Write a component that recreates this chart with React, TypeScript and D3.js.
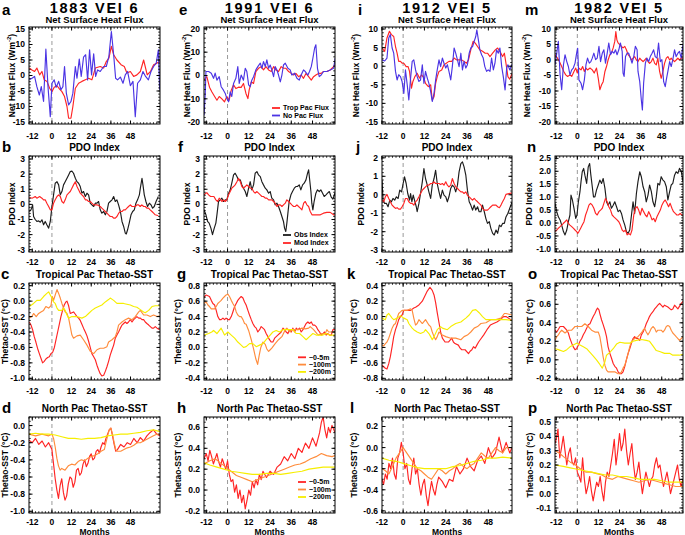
import React from "react";
import * as d3 from "d3";

type P = [number, number];

// ---------- Row a: Net surface heat flux (Trop Pac Flux = red, No Pac Flux = blue)
const aRed: P[] = [[-13.8,2.4],[-12.2,1.8],[-10.6,1.3],[-9.2,2.4],[-7.5,0.2],[-6.1,1.3],[-4.7,-1.4],[-3,-1.9],[-1.4,-4.1],[0,-5.2],[1.4,-3.8],[3.1,-3.3],[4.7,-4.4],[6.1,-5.2],[7.7,-6.8],[9.2,-10],[10.2,-13.8],[11.6,-13.8],[12.8,-10],[14.3,-4.1],[16.3,-2.5],[18.3,-1.9],[20.4,-1.4],[22.4,-0.9],[24.4,-1.4],[26.5,2.4],[29.5,2.9],[31.6,2.4],[33.2,4.5],[34.8,5.6],[36.3,9.4],[37.7,6.7],[39.7,5],[42.2,3.5],[44.2,2.9],[45.8,0.8],[47.9,1.3],[49.9,-0.3],[51.9,0.2],[54,1.3],[56,5],[58.2,0.2],[60.2,1.3],[62.1,3.5],[64.2,4],[65.8,4.5]];
const aBlue: P[] = [[-13.8,-1.4],[-12.2,-0.9],[-10.6,-0.3],[-9.2,-3.6],[-7.7,-6.3],[-6.5,-3.6],[-5.1,-8.4],[-3.7,8.5],[-2.4,-3.6],[-1,-13.3],[0,-2.5],[1.4,-1.4],[2.6,-3.8],[4.1,-1.9],[5.5,-4.6],[6.7,-3.6],[7.7,2.9],[8.8,-5.7],[10.2,-9.5],[11.6,-8.4],[12.8,-5.7],[14.3,2.9],[15.3,-0.9],[16.7,5.3],[17.9,-0.3],[19.3,5.9],[20.6,6.7],[21.8,-1.4],[23,8.3],[24.2,0.2],[25.5,7],[26.7,-0.3],[27.9,1.8],[29.5,1.3],[31.6,2.9],[33.2,2.9],[34.8,6.2],[36.3,14.2],[37.7,6.7],[38.9,-0.9],[40.1,-1.4],[41.8,-0.5],[43.4,-2.5],[44.8,0.2],[46.2,1.3],[47.9,-3.3],[49.5,-1.9],[50.9,-13.3],[52.3,-2.5],[54,-1.4],[55.6,1.3],[57.2,-0.3],[58.9,-1.4],[60.5,1.3],[62.1,2.9],[63.7,4],[65,8.3],[65.8,-4.6]];
const eRed: P[] = [[-13.3,-2],[-11.7,-0.5],[-10.2,-5],[-8.9,-7],[-7.3,-9],[-6,-10.6],[-4.7,-9],[-3.2,-10],[-1.7,-11.3],[-0.4,-9],[0.9,-10.6],[2.1,-6.3],[3.4,-4],[4.7,-5.6],[6.2,-5],[7.7,-5.1],[9,-3.4],[10.4,-7.7],[11.5,-9.9],[12.2,-6.3],[13.4,-2.7],[14.7,-3.4],[16,1.7],[17.5,3.1],[19,3.8],[20.3,2.4],[21.7,3.8],[23.2,2.4],[24.7,1.7],[26,3.8],[27.3,2.4],[28.8,1.7],[30.3,3.8],[31.6,3.1],[33,3.1],[34.5,1.7],[36,0.9],[37.3,0.2],[38.6,0.9],[40.1,-0.5],[41.6,0.2],[42.9,-1.2],[44.3,0.9],[45.8,-0.5],[47.3,-2],[48.6,-0.5],[49.9,0.2],[51.4,0.9],[52.9,0.9],[54.2,1.7],[56.1,1.7],[58,2.4],[59.9,3.8],[60.8,4.5]];
const eBlue: P[] = [[-13.3,-17],[-12.6,-8],[-12.2,1.7],[-10.7,1.7],[-9.2,1],[-7.9,-1.2],[-7,1],[-6,-2],[-4.7,-0.5],[-3.6,-4.8],[-2.3,-6.3],[-1.3,-7.7],[-0.4,-9.9],[0.6,-11.3],[1.5,-7],[2.4,-9],[3.4,-3.4],[4.7,-1.2],[5.8,3.8],[6.6,-3.4],[7.7,0.2],[9,-2],[10,3.1],[10.9,1.7],[11.9,-4],[12.8,-4.8],[13.7,-2],[14.7,-0.5],[16,2.4],[17.1,3.8],[18.5,5.3],[19.4,3.1],[20.3,6],[21.3,3.8],[22.2,6.7],[23.2,3.1],[24.1,4.5],[25,2.4],[26,-0.5],[26.9,3.8],[27.9,2.4],[28.8,0.2],[29.8,-2.7],[30.7,0.2],[31.6,4.5],[32.6,5.3],[34.1,3.1],[35.4,2.4],[36.3,0.2],[37.9,1],[39.2,-1.2],[40.5,-2],[41.6,0.2],[42.9,2.4],[43.9,1.7],[45.4,0.2],[46.3,1.7],[47.3,3.8],[48.2,7.4],[49.2,11.8],[49.9,13.2],[50.8,3.1],[51.8,-0.5],[52.9,0.2],[54.2,1.7],[56.1,1.7],[58,2.4],[59.9,3.1],[60.8,7.4]];
const iRed: P[] = [[-11.9,4.9],[-10.4,4],[-9.1,7.6],[-7.7,9.4],[-6.6,8.5],[-5.3,8],[-4.3,5.3],[-3.4,3.5],[-2.5,1.3],[-1.5,1.3],[-0.6,0.8],[0.4,0.8],[1.7,-0.1],[2.8,-0.1],[3.6,-1.4],[4.7,-5.9],[5.5,-4.1],[6.6,-2.8],[7.9,-1.9],[9.2,-3.2],[10.4,-2.3],[11.7,-3.2],[12.6,-4.6],[14.2,-5.5],[15.5,-5],[16.4,-9.1],[17.4,-8.2],[18.3,-4.6],[19.2,-2.8],[20.2,-1.4],[21.7,-1],[23,0.4],[24.3,0.8],[25.8,1.3],[27.4,1.3],[28.7,2.2],[30,1.7],[31.5,1.7],[33,1.7],[34.3,1.3],[35.7,0.8],[36.8,1.7],[38.1,4.4],[39.4,6.7],[40.6,6.2],[41.9,5.3],[43.2,4.4],[44.7,4],[46.2,3.5],[47.5,3.5],[48.9,2.6],[50.4,3.5],[51.9,4.4],[53.2,4.9],[54.5,4],[56,2.6],[57,3.5],[57.9,0.8],[59,-2.8],[60,-3.5],[61.3,-2]];
const iBlue: P[] = [[-11.9,1.7],[-10.4,1.4],[-9.1,2.2],[-8.1,7.6],[-7.2,8.5],[-6.2,4.9],[-5.3,3.5],[-4.3,-1.4],[-3.4,-3.7],[-2.5,-2.3],[-1.5,-2.8],[-0.6,-4.1],[0.4,-7.3],[1.3,-1],[2.3,-5],[3.2,-9.1],[4.2,-3.2],[5.1,1.3],[6,1.7],[7,-1],[7.9,-2.8],[8.9,-4.1],[9.8,-3.7],[10.8,0.4],[11.7,-4.6],[12.6,-1.4],[13.6,-3.2],[14.5,-4.6],[15.5,-6.8],[16.4,-9.5],[17.4,-7.3],[18.3,-3.7],[19.2,-1],[20.2,1.7],[21.1,-0.1],[22.1,2.2],[23,0.8],[24,-0.5],[24.9,0.4],[25.8,-1.4],[26.8,-3.7],[27.7,-0.1],[28.7,4.9],[29.6,3.5],[30.6,1.7],[31.5,-0.1],[32.5,3.5],[33.4,-1],[34.3,1.3],[35.3,-0.5],[36.2,0.4],[37.2,3.5],[38.1,4.9],[39.1,5.3],[40,6.7],[40.9,8],[41.5,9.8],[42.5,6.7],[43.2,4.4],[44.2,3.1],[45.1,2.2],[46,-0.1],[47,-1.4],[47.9,-1],[48.9,-1.4],[49.8,2.2],[50.8,-1],[51.7,0.8],[52.6,4.4],[53.6,3.5],[54.5,4.9],[55.5,-0.1],[56.4,-2.8],[57.4,-6.4],[58.3,-0.5],[59,0.4],[60,-1],[61.3,0.5]];
const mRed: P[] = [[-12.7,1.7],[-11.3,0.6],[-10.2,-0.5],[-8.9,-2.1],[-7.7,-3.7],[-6.6,-4.8],[-5.5,-5.3],[-4.2,-4.8],[-3.2,-5.3],[-1.9,-3.7],[-0.9,-2.6],[0,-4.2],[0.9,-2.6],[2.1,-3.2],[3,-2.1],[4,-3.7],[4.9,-2.6],[5.8,-3.2],[7.2,-2.6],[8.5,-3.2],[9.6,-4.2],[10.9,-2.6],[11.9,-5.9],[12.8,-9.6],[13.8,-8],[14.7,-7],[15.7,-3.7],[16.6,-2.1],[17.5,0],[18.5,1.7],[19.4,2.3],[20.4,3.9],[21.3,6],[21.9,9.2],[22.5,6.5],[23.2,5.5],[24.2,4.9],[25.1,4.4],[26,3.9],[27,4.4],[27.9,3.3],[28.9,1.7],[29.8,1.1],[30.8,0],[31.7,0.6],[32.6,1.1],[33.6,0],[34.5,-0.5],[35.5,0.6],[36.4,0],[37.4,-0.5],[38.3,0],[39.2,0.6],[40.2,-0.5],[41.1,-1.1],[42.1,-0.5],[43,0.6],[44,-1.1],[44.9,-1.6],[45.8,0.6],[46.8,-3.7],[47.7,-5.9],[48.7,-3.7],[49.6,-1.1],[50.6,0.6],[51.5,1.1],[52.5,0],[53.4,0.6],[54.3,0],[55.3,-0.5],[56.2,0],[57.2,0.6],[58.1,0],[59.1,0.6],[60.1,0.6]];
const mBlue: P[] = [[-12.7,-1.6],[-11.7,2.2],[-10.8,6],[-9.8,-4.8],[-8.9,-9.6],[-7.9,-1.6],[-7,1.7],[-6,-0.5],[-5.1,-2.1],[-4.2,-4.8],[-3.2,-3.2],[-2.3,-2.6],[-1.3,-1],[-0.4,2.2],[0.2,3.8],[0.9,-6.4],[2.1,-7.5],[3,-9.6],[4,-6.4],[4.9,-1.6],[5.8,0.6],[6.8,-1],[7.7,-0.5],[8.5,0.6],[9.4,2.2],[10.4,0.1],[11.3,0.6],[12.3,4.4],[13.2,-0.5],[14.2,2.2],[15.1,3.3],[16,-1],[17,2.2],[17.9,5.5],[18.9,1.7],[19.8,2.8],[20.8,2.2],[21.7,3.3],[22.6,1.7],[23.6,3.3],[24.5,5.5],[25.5,2.8],[26,-4.2],[26.6,-5.3],[27.4,1.1],[28.3,2.2],[29.2,2.2],[30.2,0.6],[31.1,-1],[32.1,1.1],[33,4.4],[34,3.3],[34.5,-3.7],[35.5,-7],[36.4,-12.9],[37,-16.1],[37.7,-7.5],[38.7,-1],[39.6,0.6],[40.6,-0.5],[41.5,1.1],[42.5,2.2],[43.4,3.3],[44.3,1.1],[45.3,0.6],[46.2,5.5],[47.2,-0.5],[48.1,0.1],[49.1,-7],[50,-8.6],[50.6,-6.4],[51.5,-3.7],[52.5,-0.5],[53.4,-2.1],[54.3,0.1],[55.3,3.3],[56.2,1.1],[57.2,2.2],[58.1,2.8],[59.1,0.6],[60.1,4.9]];

// ---------- Row b: PDO index (Obs = black, Mod = red)
const bObs: P[] = [[-13.8,-0.47],[-12.8,-0.36],[-11.8,-0.03],[-11.2,-0.8],[-10.2,-1.0],[-9.2,-1.13],[-8.1,-1.09],[-7.1,-1.18],[-6.1,-1.02],[-5.1,-1.35],[-4.1,-1.13],[-3.1,-1.35],[-2,-1.57],[-1,-1.13],[0,-0.14],[1,0.63],[2,1.4],[3.1,1.5],[4.1,1.29],[5.1,0.63],[6.1,0.85],[7.1,1.29],[8.1,1.5],[9.2,1.73],[10.2,1.95],[11.2,2.17],[12.2,2.2],[13.2,2.06],[14.3,1.73],[15.3,1.5],[16.3,1.4],[17.3,1.18],[18.3,0.74],[19.3,0.85],[20.4,0.52],[21.4,0.74],[22.4,0.63],[23.4,0.08],[24.4,-0.03],[25.5,-0.14],[26.5,0.08],[27.5,0.08],[28.5,0.19],[29.5,-0.36],[30.5,-0.58],[31.6,-0.47],[32.6,-0.69],[33.6,-0.47],[34.6,0.08],[35.6,0.19],[36.7,0.3],[37.7,0.52],[38.7,0.19],[39.7,0.3],[40.7,-0.03],[41.8,-0.47],[42.8,-1.13],[43.8,-1.46],[44.8,-1.9],[45.4,-1.96],[46.2,-1.68],[47.2,-1.24],[48.3,-0.69],[49.3,-0.47],[50.3,-0.36],[51.3,0.08],[52.3,0.3],[53.4,0.63],[54,1.07],[55,1.73],[55.6,1.29],[56.4,0.63],[57.4,0.19],[58.4,-0.14],[59.5,0.08],[60.5,-0.03],[61.5,-0.25],[62.5,-0.14],[63.6,0.19],[65,0.52]];
const bMod: P[] = [[-13.8,0.47],[-12.2,0.41],[-11.2,0.45],[-10.2,0.52],[-9.2,0.41],[-7.5,0.52],[-6.1,0.41],[-5.1,0.3],[-4.1,0.3],[-3.1,0.08],[-2,-0.14],[-1,-0.36],[0,-0.36],[1,0.08],[2,0.3],[3.1,0.52],[4.1,0.63],[5.1,0.52],[6.1,0.19],[7.1,0.08],[8.1,0.3],[9.2,0.63],[10.2,0.74],[11.2,0.85],[12.2,1.07],[13.2,1.29],[14.3,1.5],[15.3,1.18],[16.3,0.96],[17.3,0.74],[18.3,0.63],[19.3,0.52],[20.4,0.3],[21.4,0.3],[22.4,0.19],[23.4,0.19],[24.4,0.08],[25.5,-0.03],[27.5,-0.03],[29.5,-0.14],[30.5,-0.25],[31.6,-0.36],[32.6,-0.47],[33.6,-0.58],[34.6,-0.69],[35.6,-0.8],[36.7,-0.8],[37.7,-0.91],[38.7,-0.91],[39.7,-0.8],[40.7,-0.6],[41.8,-0.47],[42.8,-0.47],[43.8,-0.36],[44.8,-0.36],[45.8,-0.25],[46.8,-0.14],[47.9,-0.03],[48.9,-0.14],[49.9,-0.14],[50.9,-0.14],[51.9,-0.03],[52.9,-0.03],[53.9,-0.14],[54.9,-0.03],[56,-0.14],[57,-0.14],[58,-0.25],[59,-0.25],[60,-0.36],[61.1,-0.47],[62.1,-0.58],[63.1,-0.69],[65,-0.75]];
const fObs: P[] = [[-13.3,-0.36],[-12.2,-0.69],[-11.3,-1.13],[-10.4,-1.24],[-9.4,-1.57],[-8.5,-2.0],[-7.5,-1.57],[-6.6,-1.24],[-6,-0.69],[-5.1,0.19],[-4.1,0.3],[-3.2,0.41],[-2.3,0.19],[-1.3,0.3],[-0.4,0.3],[0.6,0.74],[1.5,0.96],[2.4,1.4],[3.4,1.95],[4.3,2.06],[5.3,1.84],[6.2,1.62],[7.2,1.62],[8.1,1.29],[9,1.07],[10,0.85],[10.9,0.52],[11.9,1.07],[12.8,1.5],[13.7,0.96],[14.7,1.29],[15.6,2.06],[16.6,2.17],[17.5,1.95],[18.5,1.84],[19.4,1.5],[20.3,1.29],[21.3,1.07],[22.2,0.96],[23.2,0.74],[24.1,0.85],[25,0.41],[26,0.3],[26.9,-0.03],[27.9,0.08],[28.8,-0.14],[29.8,-0.47],[30.7,-0.8],[31.6,-1.13],[32.2,-1.57],[32.9,-1.79],[33.5,-1.24],[34.1,-0.58],[34.8,0.19],[35.8,0.63],[36.7,0.85],[37.7,1.07],[38.6,1.18],[39.5,1.18],[40.5,1.29],[41.4,0.96],[42.4,1.29],[43.3,1.4],[44.3,1.62],[45.2,2.06],[45.8,2.28],[46.3,1.73],[47.1,0.85],[47.6,0.08],[48.2,-0.36],[48.9,0.19],[49.9,0.74],[50.8,0.96],[51.8,0.85],[52.7,0.96],[53.7,0.74],[54.6,0.52],[55.6,0.63],[56.5,0.74],[57.5,0.85],[58.5,0.5],[59.5,0.35],[60.7,0.75]];
const fMod: P[] = [[-13.3,0.63],[-11.7,0.78],[-10.7,0.63],[-9.6,0.52],[-8.7,0.52],[-7.7,0.52],[-6.6,0.3],[-5.6,0.19],[-4.7,0.41],[-3.2,0.19],[-2.3,0.3],[-1.3,0.19],[-0.4,0.3],[0.6,0.63],[1.5,0.85],[2.4,1.07],[3.4,1.18],[4.3,1.29],[5.3,1.5],[6.2,1.73],[7.2,1.5],[8.1,1.18],[9,1.07],[10,1.18],[10.9,1.29],[11.9,1.18],[12.8,1.07],[13.7,1.07],[14.7,0.85],[15.6,0.74],[16.6,0.85],[17.5,0.74],[18.5,0.63],[19.4,0.52],[20.3,0.52],[21.3,0.41],[22.2,0.41],[23.2,0.3],[24.1,0.3],[25,0.3],[26,0.19],[26.9,0.08],[27.9,-0.14],[28.8,-0.03],[29.8,-0.03],[30.7,-0.14],[31.6,-0.03],[32.6,0.08],[33.5,0.3],[34.5,0.19],[35.4,0.08],[36.3,-0.03],[37.3,-0.14],[38.2,-0.14],[39.2,-0.03],[40.1,-0.14],[41.1,-0.25],[42,-0.36],[43,0.08],[43.9,0.19],[44.8,-0.03],[45.8,-0.14],[46.7,-0.47],[47.7,-0.69],[48.6,-0.69],[50.5,-0.69],[52.4,-0.69],[54.2,-0.58],[56.1,-0.53],[58,-0.53],[59.9,-0.69],[60.7,-0.69]];
const jObs: P[] = [[-11.9,0.79],[-11.3,-0.29],[-10.4,-0.47],[-9.4,-0.47],[-8.5,-0.65],[-7.5,-0.29],[-6.6,-0.38],[-5.7,-0.2],[-4.7,-0.29],[-3.8,-0.11],[-2.8,-0.2],[-1.9,0.25],[-0.9,0.16],[0,0.61],[0.8,0.97],[1.7,0.61],[2.6,0.07],[3.6,-0.29],[4.2,0.07],[4.9,-0.38],[5.7,-0.02],[6.4,-0.29],[7.4,-0.65],[7.9,-0.92],[8.9,-0.47],[9.8,0.07],[10.8,0.7],[11.7,1.42],[12.6,0.88],[13.6,0.52],[14.5,0.16],[15.5,-0.2],[16.4,0.52],[17.4,0.88],[18.3,1.33],[19.2,0.61],[20.2,0.16],[21.1,-0.2],[22.1,0.25],[23,-0.02],[24,-0.11],[24.9,-0.38],[25.8,-0.11],[26.8,0.34],[27.7,0.52],[28.7,0.43],[29.6,0.16],[30.6,0.52],[31.5,1.24],[32.5,1.69],[33.4,1.78],[34.3,1.51],[35.3,1.06],[36.2,0.25],[37.2,-0.38],[38.1,-0.56],[39.1,-0.83],[40,-0.56],[40.9,-0.83],[41.9,-0.65],[42.8,-0.92],[43.8,-0.92],[44.7,-0.56],[45.7,-0.92],[46.6,-1.29],[47.5,-1.55],[48.5,-1.46],[49.4,-1.82],[50.4,-2.09],[51.3,-2.18],[52.3,-1.91],[53.2,-2.09],[54.2,-1.64],[55.1,-1.73],[56,-1.55],[57,-1.55],[57.9,-1.2],[59,-1.0],[61.3,-0.4]];
const jMod: P[] = [[-11.9,-0.29],[-10.9,-0.38],[-10,-0.11],[-9.1,0.02],[-8.1,-0.2],[-7.2,-0.38],[-6.2,-0.56],[-5.3,-0.65],[-4.3,-0.74],[-3.4,-0.7],[-2.5,-0.78],[-1.5,-0.78],[-0.6,-0.65],[0.4,-0.47],[1.3,-0.2],[2.3,-0.2],[3.2,-0.38],[4.2,-0.47],[5.1,-0.47],[6,-0.56],[7,-0.38],[7.9,-0.29],[8.9,-0.11],[9.8,0.07],[10.8,0.25],[11.7,0.34],[12.6,0.43],[13.6,0.52],[14.5,0.52],[15.5,0.61],[16.4,0.61],[17.4,0.7],[18.3,0.61],[19.2,0.61],[20.2,0.61],[21.1,0.56],[22.1,0.61],[23,0.52],[24,0.7],[24.9,0.52],[25.8,0.43],[26.8,0.52],[27.7,0.88],[28.7,0.61],[29.6,0.43],[30.6,0.34],[31.5,0.25],[32.5,0.16],[33.4,0.16],[34.3,0.07],[35.3,0.16],[36.2,-0.02],[37.2,-0.11],[38.1,-0.2],[39.1,-0.29],[40,-0.2],[40.9,-0.29],[41.9,-0.38],[42.8,-0.47],[43.8,-0.56],[44.7,-0.74],[45.7,-0.83],[46.6,-0.83],[47.5,-0.83],[48.5,-0.74],[49.4,-0.65],[50.4,-0.56],[51.3,-0.56],[52.3,-0.56],[53.2,-0.65],[54.2,-0.7],[55.1,-0.56],[56,-0.38],[57,-0.2],[57.9,0.02],[59,0.05],[61.3,0.1]];
const nObs: P[] = [[-12.7,0.76],[-11.7,0.44],[-10.8,0.24],[-9.8,0.12],[-8.9,-0.08],[-7.9,-0.33],[-7,-0.46],[-6,-0.27],[-5.1,0.05],[-4.2,0.31],[-3.6,1.08],[-2.8,0.89],[-1.9,0.57],[-0.9,0.18],[-0.2,0.31],[0.6,0.82],[1.5,1.21],[2.1,1.6],[2.8,1.98],[3.6,2.11],[4.3,1.85],[5.3,1.53],[6.2,2.17],[7,2.3],[7.7,1.85],[8.5,1.4],[9.2,1.01],[10,1.01],[10.9,1.27],[11.9,1.47],[12.8,1.66],[13.8,1.53],[14.7,1.72],[15.7,1.34],[16.6,0.82],[17.5,0.69],[18.5,0.82],[19.4,0.57],[20.4,0.69],[21.3,0.82],[22.3,0.63],[23.2,0.44],[24.2,0.5],[25.1,0.37],[26,0.12],[27,-0.08],[27.9,-0.33],[28.9,-0.4],[29.8,-0.27],[30.8,0.31],[31.7,0.82],[32.6,0.37],[33.6,1.14],[34.5,1.6],[35.5,1.98],[36.4,1.79],[37.4,1.4],[38.3,1.21],[39.2,0.82],[40.2,1.08],[41.1,1.47],[42.1,1.21],[43,0.82],[44,0.63],[44.9,1.01],[45.8,1.53],[46.8,1.47],[47.7,1.79],[48.7,1.66],[49.6,1.6],[50.6,1.4],[51.5,0.89],[52.5,1.21],[53.4,1.47],[54.3,1.53],[55.3,1.85],[56.2,1.98],[57.2,1.92],[58.1,2.11],[59.1,2.0],[60.1,1.6]];
const nMod: P[] = [[-12.7,-0.33],[-11.7,-0.27],[-10.8,-0.2],[-9.8,-0.14],[-8.9,-0.08],[-7.9,-0.01],[-7,0.05],[-6,0.12],[-5.1,-0.01],[-4.2,-0.08],[-3.2,-0.14],[-2.3,-0.2],[-1.3,-0.27],[-0.4,-0.33],[0.2,-0.4],[0.9,-0.33],[1.9,-0.2],[2.8,-0.08],[3.8,0.05],[4.7,0.31],[5.7,0.5],[6.6,0.69],[7.5,0.76],[8.5,0.69],[9.4,0.57],[10.4,0.37],[11.3,0.31],[12.3,0.44],[13.2,0.5],[14.2,0.57],[15.1,0.76],[16,0.95],[17,0.82],[17.9,0.63],[18.9,0.5],[19.8,0.31],[20.8,0.24],[21.7,0.18],[22.6,0.12],[23.6,0.05],[24.5,-0.08],[25.5,-0.27],[26.4,-0.33],[27.4,-0.27],[28.3,-0.46],[29.2,-0.4],[30.2,-0.46],[31.1,-0.27],[32.1,0.31],[33,0.57],[34,0.63],[34.9,0.5],[35.8,0.31],[36.8,0.57],[37.7,0.44],[38.7,0.31],[39.6,0.24],[40.6,0.44],[41.5,0.31],[42.5,0.12],[43.4,0.18],[44.3,0.05],[45.3,0.24],[46.2,0.37],[47.2,0.5],[48.1,0.69],[49.1,0.82],[50,0.89],[51,0.76],[51.9,0.63],[52.8,0.76],[53.8,0.57],[54.7,0.44],[55.7,0.37],[56.6,0.31],[57.5,0.31],[58.5,0.37],[59.4,0.31],[60.1,0.31]];

// ---------- Row c: Tropical Pac thetao-SST (~0-5m red, ~100m orange, ~200m yellow)
const cSurf: P[] = [[-13.8,-0.27],[-12.8,-0.31],[-11.8,-0.37],[-10.8,-0.46],[-9.8,-0.53],[-8.8,-0.61],[-7.7,-0.68],[-6.7,-0.74],[-5.7,-0.8],[-4.7,-0.78],[-3.7,-0.75],[-2.6,-0.73],[-1.6,-0.72],[-0.6,-0.68],[0.5,-0.66],[1.5,-0.6],[2.5,-0.5],[3.5,-0.4],[4.5,-0.3],[5.5,-0.2],[6.5,-0.12],[7.5,-0.05],[8.5,-0.01],[9.2,0.0],[10.2,-0.06],[11.2,-0.16],[12.2,-0.15],[13.2,-0.14],[14.3,-0.17],[15.3,-0.2],[16.3,-0.22],[17.3,-0.25],[18.3,-0.3],[19.3,-0.35],[20.4,-0.4],[21.4,-0.45],[22.4,-0.52],[23.4,-0.6],[24.4,-0.68],[25.5,-0.72],[26.5,-0.76],[27.5,-0.83],[28.5,-0.89],[29.5,-0.94],[30.5,-0.97],[31.6,-0.96],[32.6,-0.91],[33.6,-0.85],[34.6,-0.78],[35.6,-0.7],[36.7,-0.63],[37.7,-0.57],[38.7,-0.48],[39.7,-0.44],[40.7,-0.4],[41.8,-0.35],[42.8,-0.31],[43.8,-0.29],[44.8,-0.27],[45.8,-0.29],[46.8,-0.27],[47.9,-0.24],[48.9,-0.27],[49.9,-0.24],[50.9,-0.22],[51.9,-0.2],[53,-0.22],[54,-0.22],[55,-0.24],[56,-0.24],[57,-0.27],[58,-0.29],[59.1,-0.31],[60.1,-0.33],[61.1,-0.35],[62.1,-0.35],[63.1,-0.33],[64.2,-0.35],[65.8,-0.37]];
const c100: P[] = [[-13.8,-0.22],[-12.2,-0.2],[-11.2,-0.16],[-9.6,-0.2],[-8.1,-0.16],[-6.7,-0.14],[-5.1,-0.12],[-3.7,-0.07],[-2,-0.09],[-0.6,-0.06],[0.2,0.06],[1,0.01],[2,0.08],[3.1,0.15],[4.1,0.1],[5.1,0.04],[6.1,-0.03],[7.1,-0.09],[8.1,-0.14],[9.2,-0.16],[10.2,-0.22],[11.2,-0.33],[12.2,-0.44],[13.2,-0.48],[15.3,-0.45],[17.3,-0.44],[19.3,-0.5],[21.4,-0.57],[23.4,-0.65],[25.5,-0.68],[27.5,-0.63],[29.5,-0.61],[31.6,-0.61],[33.6,-0.59],[34.6,-0.53],[36.7,-0.5],[38.7,-0.46],[39.7,-0.4],[40.7,-0.31],[42.8,-0.27],[44.8,-0.24],[46.8,-0.22],[48.9,-0.24],[50.9,-0.2],[53,-0.14],[54,-0.12],[56,-0.18],[58,-0.18],[60.1,-0.2],[62.1,-0.18],[64.2,-0.2],[65.8,-0.19]];
const c200: P[] = [[-13.8,-0.07],[-11.2,-0.03],[-9.2,0.01],[-7.1,0.01],[-5.1,0.06],[-3.1,0.1],[-2,0.12],[-1,0.08],[0,0.04],[1,-0.01],[2,-0.03],[3.1,-0.09],[4.1,-0.12],[6.1,-0.12],[7.1,-0.09],[8.1,-0.12],[9.2,-0.18],[10.2,-0.22],[12.2,-0.2],[15.3,-0.2],[18.3,-0.22],[20.4,-0.2],[22.4,-0.16],[24.4,-0.12],[26.5,-0.09],[28.5,-0.07],[30.5,-0.05],[32.6,-0.01],[34.6,0.02],[35.6,0.04],[37.7,0.01],[39.7,-0.03],[41.8,-0.03],[43.8,-0.03],[45.8,-0.04],[47.9,-0.05],[49.9,-0.07],[51.9,-0.08],[54,-0.11],[56,-0.14],[57,-0.15],[59.1,-0.12],[61.1,-0.07],[63.1,-0.06],[65.8,-0.06]];
const gSurf: P[] = [[-13.3,0.65],[-12.1,0.68],[-10.2,0.66],[-9.2,0.61],[-8.3,0.57],[-7.3,0.55],[-6.4,0.48],[-5.5,0.4],[-4.5,0.36],[-3.6,0.36],[-2.6,0.38],[-1.7,0.36],[-0.8,0.38],[0.2,0.36],[1.1,0.36],[2.1,0.4],[3,0.46],[4,0.53],[4.9,0.57],[5.8,0.61],[6.8,0.64],[7.7,0.66],[8.7,0.64],[9.6,0.59],[10.5,0.55],[11.5,0.48],[12.4,0.42],[13.4,0.36],[14.3,0.31],[15.3,0.27],[16.2,0.25],[17.1,0.2],[18.1,0.23],[19,0.27],[20,0.25],[20.9,0.23],[21.8,0.18],[22.8,0.14],[23.7,0.1],[24.7,0.07],[25.6,0.07],[26.6,0.12],[27.5,0.14],[28.4,0.16],[29.4,0.18],[30.3,0.2],[31.3,0.25],[32.2,0.23],[33.1,0.2],[34.1,0.18],[35,0.23],[36,0.2],[36.9,0.25],[37.9,0.2],[38.8,0.25],[39.7,0.23],[40.7,0.25],[41.6,0.2],[42.6,0.23],[43.5,0.27],[44.4,0.31],[45.4,0.33],[46.3,0.31],[47.3,0.33],[48.2,0.29],[49.2,0.29],[50.1,0.27],[51,0.23],[52,0.2],[52.9,0.16],[53.9,0.18],[54.8,0.2],[55.7,0.16],[56.7,0.18],[57.6,0.16],[58.6,0.16],[59.5,0.23],[60.8,0.23]];
const g100: P[] = [[-13.3,0.57],[-12.1,0.59],[-11.1,0.55],[-10.2,0.53],[-9.2,0.5],[-7.3,0.5],[-6.4,0.53],[-5.5,0.57],[-4.5,0.59],[-3.6,0.61],[-2.6,0.64],[-1.7,0.66],[-0.8,0.68],[0.2,0.69],[1.1,0.66],[2.1,0.61],[3,0.57],[4,0.53],[4.9,0.46],[5.8,0.42],[6.8,0.4],[7.7,0.4],[8.7,0.36],[9.6,0.31],[10.5,0.3],[11.9,0.22],[13.4,0.1],[14.7,-0.02],[16,-0.15],[17,-0.22],[17.9,-0.1],[18.8,0.0],[20,0.07],[21.3,0.04],[22.2,-0.02],[23.2,-0.05],[24.1,-0.03],[25,-0.01],[26.9,0.05],[28.8,0.1],[30.7,0.14],[32.6,0.23],[33.5,0.25],[35.4,0.2],[36.3,0.23],[38.2,0.23],[40.1,0.23],[42,0.25],[43.9,0.24],[45.8,0.25],[46.7,0.27],[48.6,0.23],[50.5,0.18],[51.4,0.16],[53.3,0.18],[55.2,0.18],[56.1,0.23],[57.1,0.2],[58.9,0.2],[60.8,0.2]];
const g200: P[] = [[-13.3,0.16],[-10.7,0.18],[-8.9,0.2],[-7.9,0.22],[-6,0.18],[-3.6,0.25],[-1.7,0.16],[0.2,0.2],[2.1,0.16],[4,0.12],[5.8,0.07],[7.7,0.03],[9,0.0],[10.5,0.01],[12.4,0.05],[14.3,0.05],[16.2,0.01],[18.1,0.03],[20,0.05],[21.8,0.1],[23.7,0.15],[25.6,0.2],[27.5,0.22],[29.4,0.2],[31.3,0.23],[33.1,0.23],[35,0.23],[36.9,0.23],[38.8,0.18],[40.7,0.18],[42.6,0.14],[44.4,0.1],[46.3,0.14],[48.2,0.18],[50.1,0.16],[52,0.16],[53.9,0.16],[55.7,0.18],[57.6,0.16],[59.5,0.16],[60.8,0.16]];
const kSurf: P[] = [[-11.9,-0.63],[-10.9,-0.65],[-10,-0.67],[-9.1,-0.68],[-8.1,-0.61],[-7.2,-0.52],[-6.2,-0.39],[-5.3,-0.26],[-4.3,-0.17],[-3.4,-0.11],[-2.5,-0.04],[-1.5,0],[-0.6,0.02],[0.4,0.08],[2.3,0.08],[4.2,0.08],[6,0.11],[7,0.12],[8.9,0.15],[10.8,0.2],[12.3,0.27],[13.6,0.33],[15.1,0.38],[16.4,0.34],[17.4,0.28],[18.3,0.18],[19.2,0.05],[20.2,-0.08],[21.1,-0.2],[22.1,-0.28],[23.6,-0.33],[25.5,-0.33],[27.4,-0.28],[28.3,-0.33],[29.2,-0.35],[31.1,-0.37],[32.1,-0.41],[33,-0.43],[34.9,-0.43],[36.8,-0.48],[37.7,-0.45],[38.7,-0.43],[39.6,-0.39],[40.6,-0.41],[41.5,-0.37],[42.5,-0.33],[43.4,-0.3],[45.3,-0.24],[47.2,-0.17],[49.1,-0.11],[50.9,-0.09],[52.8,-0.07],[54.7,-0.04],[56.6,0],[57.9,0],[61.3,-0.05]];
const k100: P[] = [[-11.9,-0.37],[-10.9,-0.38],[-10,-0.35],[-9.1,-0.33],[-8.1,-0.28],[-7.2,-0.22],[-6.2,-0.15],[-5.3,-0.11],[-4.3,-0.09],[-3.4,-0.02],[-2.5,0.04],[-1.5,0.06],[-0.6,0.08],[2.3,0.08],[4.2,0.1],[5.1,0.08],[6,-0.02],[7,-0.11],[7.9,-0.09],[8.9,-0.04],[10.8,-0.09],[12.6,-0.04],[14.5,-0.11],[15.5,-0.13],[16.4,-0.2],[17.4,-0.26],[18.3,-0.3],[19.2,-0.26],[20.2,-0.2],[22.1,-0.24],[24,-0.26],[26.8,-0.28],[29.6,-0.28],[32.5,-0.3],[34.3,-0.26],[36.2,-0.24],[38.1,-0.2],[40,-0.15],[41.9,-0.13],[43.8,-0.09],[46.6,-0.08],[49.4,-0.04],[52.3,-0.04],[55.1,-0.02],[57,0.04],[57.9,0.04],[61.3,0.02]];
const k200: P[] = [[-11.9,-0.02],[-10,-0.04],[-9.1,0.02],[-8.1,0.04],[-6.2,-0.02],[-5.3,-0.04],[-3.4,-0.02],[-1.5,0.01],[0.4,-0.02],[2.3,-0.04],[3.2,-0.09],[5.1,-0.15],[6,-0.17],[7.9,-0.2],[9.8,-0.22],[11.7,-0.2],[12.6,-0.17],[14.5,-0.22],[15.5,-0.26],[16.4,-0.3],[17.4,-0.26],[19.2,-0.17],[21.1,-0.13],[22.1,-0.15],[24.9,-0.17],[26.8,-0.13],[29.6,-0.09],[32.5,-0.07],[35.3,-0.02],[37.2,0.02],[39.1,0.08],[40.9,0.09],[42.8,0.05],[44.7,0],[46.6,-0.04],[48.5,-0.04],[52.3,-0.04],[56,-0.04],[57.9,-0.04],[61.3,-0.05]];
const oSurf: P[] = [[-12.7,0.32],[-11.7,0.3],[-9.8,0.36],[-7.9,0.36],[-6,0.32],[-5.1,0.29],[-4.2,0.23],[-3.2,0.18],[-2.3,0.14],[-1.3,0.11],[-0.4,0.12],[0.6,0.16],[1.5,0.2],[2.5,0.23],[3.4,0.27],[4.3,0.3],[5.3,0.34],[6.2,0.38],[7.2,0.39],[8.1,0.43],[9.1,0.47],[10,0.5],[10.9,0.54],[11.5,0.56],[12.3,0.54],[12.8,0.5],[13.8,0.43],[14.7,0.38],[15.7,0.32],[16.6,0.25],[17.5,0.14],[18.5,0.07],[19.4,0.02],[20.4,-0.04],[21.3,-0.07],[22.3,-0.09],[23.2,-0.13],[24.2,-0.15],[25.1,-0.15],[26,-0.13],[27,-0.07],[27.9,0],[28.9,0.07],[29.8,0.12],[30.8,0.18],[31.7,0.23],[32.6,0.25],[33.6,0.23],[34.5,0.23],[35.5,0.21],[36.4,0.27],[37.4,0.3],[38.3,0.34],[39.2,0.39],[40.2,0.43],[41.1,0.47],[42.1,0.5],[43,0.52],[44,0.55],[44.9,0.57],[45.8,0.59],[46.8,0.61],[47.7,0.59],[48.7,0.57],[49.6,0.59],[51.5,0.57],[53.4,0.54],[54.3,0.55],[55.3,0.59],[57.2,0.55],[59.1,0.61],[60.1,0.63]];
const o100: P[] = [[-12.7,0.21],[-11.7,0.25],[-10.8,0.27],[-9.8,0.3],[-8.9,0.32],[-7,0.29],[-5.1,0.32],[-3.2,0.32],[-1.3,0.36],[0.6,0.36],[2.5,0.36],[4.3,0.39],[6.2,0.36],[8.1,0.32],[10,0.3],[11.9,0.3],[12.8,0.25],[13.8,0.14],[14.7,0.03],[15.7,-0.06],[16.6,-0.11],[17.5,-0.13],[19.4,-0.13],[21.3,-0.13],[23.2,-0.15],[24.2,-0.15],[25.1,-0.13],[26,-0.09],[27,-0.06],[27.9,0],[28.9,0.07],[29.8,0.14],[30.8,0.2],[32.6,0.23],[34.5,0.25],[36.4,0.29],[37.4,0.32],[38.3,0.34],[39.2,0.3],[40.2,0.27],[41.1,0.3],[42.1,0.34],[43,0.36],[44,0.34],[44.9,0.3],[45.8,0.32],[47.7,0.32],[48.7,0.3],[49.6,0.32],[50.6,0.36],[51.5,0.37],[52.5,0.36],[53.4,0.32],[54.3,0.29],[55.3,0.27],[56.2,0.25],[57.2,0.23],[58.1,0.21],[59.1,0.23],[60.1,0.25]];
const o200: P[] = [[-12.7,0.12],[-10.8,0.11],[-7.9,0.09],[-6,0.11],[-4.2,0.14],[-2.3,0.16],[-0.4,0.18],[1.5,0.16],[3.4,0.14],[5.3,0.12],[7.2,0.08],[9.1,0.04],[10.9,0],[12.8,-0.05],[14.2,-0.09],[15.7,-0.02],[16.6,0.05],[18.5,0.08],[20.4,0.12],[22.3,0.17],[24.2,0.19],[27,0.18],[29.8,0.18],[31.7,0.2],[33.6,0.21],[36.4,0.22],[39.2,0.21],[41.1,0.2],[43,0.15],[44.9,0.1],[46.8,0.09],[49.6,0.07],[52.5,0.07],[54.3,0.05],[56.2,0.05],[58.1,0.05],[60.1,0.06]];

// ---------- Row d: North Pac thetao-SST
const dSurf: P[] = [[-14,-0.17],[-12,-0.2],[-10,-0.15],[-8,-0.22],[-6,-0.18],[-4,-0.25],[-2,-0.2],[0,-0.28],[1,-0.45],[2,-0.62],[3,-0.75],[4,-0.85],[5,-0.7],[6,-0.62],[7,-0.78],[8,-0.87],[9,-0.82],[10,-0.68],[11,-0.6],[12,-0.62],[13,-0.72],[14,-0.66],[15,-0.52],[16,-0.5],[17,-0.58],[18,-0.55],[19,-0.45],[20,-0.4],[21,-0.48],[22,-0.44],[23,-0.36],[24,-0.33],[25,-0.4],[26,-0.38],[27,-0.3],[28,-0.28],[29,-0.32],[30,-0.25],[31,-0.2],[32,-0.22],[33,-0.15],[34,-0.1],[35,-0.05],[36,-0.03],[37,-0.12],[38,-0.22],[39,-0.3],[40,-0.28],[42,-0.22],[44,-0.25],[46,-0.2],[48,-0.22],[50,-0.15],[52,-0.2],[54,-0.14],[56,-0.18],[58,-0.12],[60,-0.08],[62,-0.05],[64,-0.1],[66,-0.12]];
const d100: P[] = [[-14,-0.1],[-10,-0.12],[-6,-0.1],[-2,-0.12],[0,-0.1],[1,-0.15],[2,-0.25],[3,-0.38],[4,-0.47],[5,-0.52],[6,-0.5],[8,-0.52],[10,-0.47],[12,-0.45],[14,-0.46],[16,-0.42],[18,-0.4],[20,-0.41],[22,-0.38],[24,-0.36],[26,-0.35],[28,-0.33],[30,-0.3],[32,-0.28],[33,-0.2],[34,-0.12],[35,-0.05],[36,-0.03],[37,-0.1],[38,-0.2],[39,-0.28],[40,-0.3],[42,-0.3],[44,-0.28],[46,-0.26],[48,-0.25],[50,-0.23],[52,-0.2],[54,-0.2],[56,-0.18],[58,-0.16],[60,-0.14],[62,-0.12],[64,-0.1],[66,-0.1]];
const d200: P[] = [[-14,-0.1],[-10,-0.09],[-6,-0.1],[-2,-0.1],[2,-0.11],[6,-0.13],[10,-0.15],[14,-0.15],[18,-0.16],[22,-0.15],[26,-0.15],[30,-0.14],[34,-0.12],[38,-0.11],[42,-0.1],[46,-0.1],[50,-0.09],[54,-0.08],[58,-0.06],[62,-0.05],[66,-0.07]];
const hSurf: P[] = [[-13.3,0.3],[-12,0.35],[-11,0.28],[-10,0.38],[-9,0.32],[-8,0.25],[-7,0.3],[-6,0.35],[-5,0.27],[-4,0.22],[-3,0.3],[-2,0.25],[-1,0.2],[0,0.28],[1,0.15],[2,0.08],[3,0.1],[4,-0.02],[5,0.05],[6,-0.08],[7,0.0],[8,-0.12],[9,-0.05],[10,-0.18],[11,-0.1],[12,0.0],[13,-0.05],[14,0.08],[15,0.02],[16,0.1],[17,0.05],[18,0.15],[19,0.1],[20,0.18],[22,0.12],[24,0.18],[26,0.15],[28,0.22],[30,0.25],[32,0.32],[34,0.28],[36,0.35],[38,0.3],[40,0.4],[42,0.36],[44,0.45],[46,0.4],[48,0.5],[50,0.42],[52,0.55],[53,0.65],[54,0.7],[55,0.58],[56,0.5],[57,0.6],[58,0.55],[59,0.62],[60.7,0.55]];
const h100: P[] = [[-13.3,0.25],[-10,0.28],[-7,0.3],[-4,0.26],[-1,0.22],[2,0.18],[5,0.14],[8,0.12],[11,0.1],[14,0.08],[17,0.1],[20,0.12],[23,0.14],[26,0.16],[29,0.18],[32,0.2],[35,0.22],[38,0.24],[41,0.25],[44,0.27],[47,0.3],[50,0.32],[53,0.35],[56,0.33],[59,0.32],[60.7,0.33]];
const h200: P[] = [[-13.3,0.26],[-10,0.24],[-6,0.22],[-2,0.2],[2,0.18],[6,0.17],[10,0.16],[14,0.15],[18,0.15],[22,0.16],[26,0.16],[30,0.15],[34,0.16],[38,0.17],[42,0.18],[46,0.2],[50,0.21],[54,0.22],[58,0.22],[60.7,0.22]];
const lSurf: P[] = [[-11.9,-0.3],[-11,-0.35],[-10,-0.25],[-9,-0.3],[-8,-0.15],[-7,-0.2],[-6,-0.1],[-5,-0.25],[-4,-0.3],[-3,-0.1],[-2,-0.05],[-1,0.05],[0,-0.05],[1,-0.2],[2,-0.15],[3,-0.3],[4,-0.35],[5,-0.2],[6,-0.1],[7,-0.25],[8,-0.2],[9,-0.35],[10,-0.45],[11,-0.35],[12,-0.3],[13,-0.45],[14,-0.55],[15,-0.42],[16,-0.32],[17,-0.4],[18,-0.45],[19,-0.35],[20,-0.28],[22,-0.32],[24,-0.38],[26,-0.3],[28,-0.32],[30,-0.18],[32,-0.25],[34,-0.2],[36,-0.1],[38,-0.18],[40,-0.22],[42,-0.12],[44,-0.08],[46,-0.15],[48,0.0],[50,-0.1],[52,-0.05],[54,0.1],[56,-0.05],[58,0.05],[60,-0.05],[61.3,0.0]];
const l100: P[] = [[-11.9,-0.2],[-10,-0.22],[-8,-0.25],[-6,-0.18],[-4,-0.1],[-2,-0.05],[0,0.0],[2,-0.05],[4,-0.1],[6,-0.15],[8,-0.2],[10,-0.22],[12,-0.25],[14,-0.28],[16,-0.3],[18,-0.25],[20,-0.2],[22,-0.22],[24,-0.25],[26,-0.22],[28,-0.2],[30,-0.17],[32,-0.15],[34,-0.18],[36,-0.2],[38,-0.17],[40,-0.15],[42,-0.1],[44,-0.05],[46,-0.08],[48,-0.1],[50,-0.05],[52,0.0],[54,-0.03],[56,-0.05],[58,0.0],[61.3,0.0]];
const l200: P[] = [[-11.9,-0.1],[-8,-0.12],[-4,-0.13],[0,-0.15],[4,-0.17],[8,-0.19],[12,-0.2],[16,-0.2],[20,-0.2],[24,-0.2],[28,-0.18],[32,-0.17],[36,-0.15],[40,-0.13],[44,-0.12],[48,-0.1],[52,-0.1],[56,-0.09],[61.3,-0.1]];
const pSurf: P[] = [[-12.7,0.35],[-12,0.38],[-11,0.45],[-10,0.25],[-9,0.32],[-8,0.4],[-7,0.3],[-6,0.2],[-5,0.28],[-4,0.32],[-3,0.22],[-2,0.2],[-1,0.25],[0,0.15],[1,0.12],[2,0.08],[3,0.25],[4,0.1],[5,0.0],[6,0.05],[7,0.12],[8,0.02],[9,-0.05],[10,0.02],[11,0.08],[12,0.05],[13,0.12],[14,0.02],[15,-0.05],[16,0.08],[17,0.15],[18,0.12],[19,0.2],[20,0.28],[21,0.38],[22,0.2],[23,0.3],[24,0.42],[25,0.3],[26,0.35],[27,0.45],[28,0.3],[29,0.2],[30,0.28],[31,0.35],[32,0.2],[33,0.1],[34,0.15],[35,0.22],[36,0.1],[37,0.0],[38,0.08],[39,0.15],[40,0.1],[41,0.05],[42,0.1],[43,0.12],[44,0.2],[45,0.25],[46,0.18],[47,0.2],[48,0.12],[49,0.05],[50,0.1],[51,0.15],[52,0.08],[53,0.0],[54,0.05],[55,0.1],[56,0.15],[57,0.2],[58,0.1],[59,0.05],[60.1,0.1]];
const p100: P[] = [[-12.7,0.3],[-10,0.28],[-7,0.25],[-4,0.22],[-1,0.2],[2,0.17],[5,0.15],[8,0.15],[11,0.14],[14,0.13],[17,0.11],[20,0.1],[23,0.12],[26,0.11],[29,0.1],[32,0.09],[35,0.08],[38,0.09],[41,0.1],[44,0.09],[47,0.08],[50,0.07],[53,0.06],[56,0.05],[60.1,0.05]];
const p200: P[] = [[-12.7,0.2],[-8,0.19],[-4,0.18],[0,0.17],[4,0.16],[8,0.15],[12,0.14],[16,0.13],[20,0.13],[24,0.12],[28,0.12],[32,0.11],[36,0.1],[40,0.1],[44,0.1],[48,0.09],[52,0.08],[56,0.08],[60.1,0.08]];

// ---------- Labels
const YEARS = ["1883 VEI 6", "1991 VEI 6", "1912 VEI 5", "1982 VEI 5"];
const ROW_TITLES = ["Net Surface Heat Flux", "PDO Index", "Tropical Pac Thetao-SST", "North Pac Thetao-SST"];
const LETTERS = [["a", "b", "c", "d"], ["e", "f", "g", "h"], ["i", "j", "k", "l"], ["m", "n", "o", "p"]];
const X_TICKS = [-12, 0, 12, 24, 36, 48];
const FLUX_LEGEND = ["Trop Pac Flux", "No Pac Flux"];
const PDO_LEGEND = ["Obs Index", "Mod Index"];
const DEPTH_LEGEND = ["~0-5m", "~100m", "~200m"];

const RED = "#ff2424";
const BLUE = "#4b34e4";
const BLACK = "#1c1c1c";
const ORANGE = "#ff8c3c";
const YELLOW = "#f6ee00";
const FONT = "'Liberation Sans', Arial, Helvetica, sans-serif";

const COLS = [
  { left: 29, width: 131, xd: [-14, 66] },
  { left: 204, width: 131, xd: [-13.3, 60.7] },
  { left: 382, width: 130, xd: [-11.9, 61.3] },
  { left: 555, width: 128, xd: [-12.7, 60.1] },
];
const ROWS = [
  { top: 27, height: 97, titleY: 23, tickY: 138.5 },
  { top: 156, height: 96, titleY: 151, tickY: 265 },
  { top: 283, height: 97, titleY: 278, tickY: 394 },
  { top: 417, height: 96, titleY: 411.5, tickY: 524.5 },
];

interface PanelCfg {
  r: number; c: number;
  yd: [number, number];
  yt: number[];
  ym: number;
  fmt: string;
  ylx: number;
  letterX: number;
  series: [P[], string][];
  legend?: { labels: string[]; colors: string[]; x: number; y: number; dy: number };
}

const FLUX_C = [RED, BLUE];
const PDO_C = [BLACK, RED];
const DEP_C = [RED, ORANGE, YELLOW];

const PANELS: PanelCfg[] = [
  { r: 0, c: 0, yd: [-15.65, 15.65], yt: [-15, -10, -5, 0, 5, 10, 15], ym: 1, fmt: "d", ylx: 12, letterX: 2, series: [[aRed, RED], [aBlue, BLUE]] },
  { r: 0, c: 1, yd: [-20.8, 20.8], yt: [-20, -10, 0, 10, 20], ym: 2, fmt: "d", ylx: 187, letterX: 179, series: [[eRed, RED], [eBlue, BLUE]], legend: { labels: FLUX_LEGEND, colors: FLUX_C, x: 272, y: 108, dy: 7.5 } },
  { r: 0, c: 2, yd: [-15.55, 10.55], yt: [-15, -10, -5, 0, 5, 10], ym: 1, fmt: "d", ylx: 356, letterX: 358, series: [[iRed, RED], [iBlue, BLUE]] },
  { r: 0, c: 3, yd: [-20.65, 10.65], yt: [-20, -15, -10, -5, 0, 5, 10], ym: 1, fmt: "d", ylx: 527, letterX: 525, series: [[mRed, RED], [mBlue, BLUE]] },
  { r: 1, c: 0, yd: [-3.15, 3.2], yt: [-3, -2, -1, 0, 1, 2, 3], ym: 0.2, fmt: "d", ylx: 12, letterX: 2, series: [[bObs, BLACK], [bMod, RED]] },
  { r: 1, c: 1, yd: [-3.15, 3.2], yt: [-3, -2, -1, 0, 1, 2, 3], ym: 0.2, fmt: "d", ylx: 187, letterX: 178, series: [[fObs, BLACK], [fMod, RED]], legend: { labels: PDO_LEGEND, colors: PDO_C, x: 283, y: 235, dy: 8 } },
  { r: 1, c: 2, yd: [-3.1, 2.1], yt: [-3, -2, -1, 0, 1, 2], ym: 0.2, fmt: "d", ylx: 361, letterX: 356, series: [[jObs, BLACK], [jMod, RED]] },
  { r: 1, c: 3, yd: [-1.12, 2.59], yt: [-1, -0.5, 0, 0.5, 1, 1.5, 2, 2.5], ym: 0.1, fmt: ".1f", ylx: 529, letterX: 527, series: [[nObs, BLACK], [nMod, RED]] },
  { r: 2, c: 0, yd: [-1.022, 0.235], yt: [-1, -0.8, -0.6, -0.4, -0.2, 0, 0.2], ym: 0.05, fmt: ".1f", ylx: 4.5, letterX: 1, series: [[cSurf, RED], [c100, ORANGE], [c200, YELLOW]] },
  { r: 2, c: 1, yd: [-0.422, 0.835], yt: [-0.4, -0.2, 0, 0.2, 0.4, 0.6, 0.8], ym: 0.05, fmt: ".1f", ylx: 178, letterX: 177, series: [[gSurf, RED], [g100, ORANGE], [g200, YELLOW]], legend: { labels: DEPTH_LEGEND, colors: DEP_C, x: 298, y: 357.3, dy: 7.3 } },
  { r: 2, c: 2, yd: [-0.822, 0.435], yt: [-0.8, -0.6, -0.4, -0.2, 0, 0.2, 0.4], ym: 0.05, fmt: ".1f", ylx: 353.5, letterX: 347, series: [[kSurf, RED], [k100, ORANGE], [k200, YELLOW]] },
  { r: 2, c: 3, yd: [-0.218, 0.83], yt: [-0.2, 0, 0.2, 0.4, 0.6, 0.8], ym: 0.05, fmt: ".1f", ylx: 530, letterX: 528, series: [[oSurf, RED], [o100, ORANGE], [o200, YELLOW]] },
  { r: 3, c: 0, yd: [-1.02, 0.1], yt: [-1, -0.8, -0.6, -0.4, -0.2, 0], ym: 0.05, fmt: ".1f", ylx: 4.5, letterX: 2, series: [[dSurf, RED], [d100, ORANGE], [d200, YELLOW]] },
  { r: 3, c: 1, yd: [-0.22, 0.7], yt: [-0.2, 0, 0.2, 0.4, 0.6], ym: 0.05, fmt: ".1f", ylx: 178, letterX: 177, series: [[hSurf, RED], [h100, ORANGE], [h200, YELLOW]], legend: { labels: DEPTH_LEGEND, colors: DEP_C, x: 298, y: 482, dy: 7.5 } },
  { r: 3, c: 2, yd: [-0.62, 0.29], yt: [-0.6, -0.4, -0.2, 0, 0.2], ym: 0.05, fmt: ".1f", ylx: 353.5, letterX: 350, series: [[lSurf, RED], [l100, ORANGE], [l200, YELLOW]] },
  { r: 3, c: 3, yd: [-0.135, 0.535], yt: [-0.1, 0, 0.1, 0.2, 0.3, 0.4, 0.5], ym: 0.02, fmt: ".1f", ylx: 530, letterX: 528, series: [[pSurf, RED], [p100, ORANGE], [p200, YELLOW]] },
];

const clean = (s: string) => s.replace("\u2212", "-");

function YLabel({ r, x, cy }: { r: number; x: number; cy: number }) {
  const common = {
    transform: `translate(${x},${cy}) rotate(-90)`,
    textAnchor: "middle" as const,
    dominantBaseline: "central" as const,
    fontSize: 8.5,
    fontWeight: 700,
    fontFamily: FONT,
  };
  if (r === 0)
    return (
      <text {...common}>
        Net Heat Flux (Wm<tspan fontSize={6} dy={-3}>-2</tspan><tspan dy={3}>)</tspan>
      </text>
    );
  if (r === 1) return <text {...common}>PDO Index</text>;
  return <text {...common}>Thetao-SST (°C)</text>;
}

function Panel({ p, idx }: { p: PanelCfg; idx: number }) {
  const col = COLS[p.c];
  const row = ROWS[p.r];
  const x0 = col.left, x1 = col.left + col.width;
  const y0 = row.top, y1 = row.top + row.height;
  const x = d3.scaleLinear().domain(col.xd).range([x0, x1]);
  const y = d3.scaleLinear().domain(p.yd).range([y1, y0]);
  const line = d3.line<P>().x((d) => x(d[0])).y((d) => y(d[1]));
  const f = d3.format(p.fmt);
  const xMinor = d3.range(Math.ceil(col.xd[0] / 2) * 2, col.xd[1], 2);
  const yMinor: number[] = [];
  for (let k = Math.ceil(p.yd[0] / p.ym - 1e-6); k * p.ym <= p.yd[1] + 1e-9; k++) yMinor.push(k * p.ym);
  const clipId = `clip-${idx}`;
  const letter = LETTERS[p.c][p.r];
  const cx = (x0 + x1) / 2;
  return (
    <g>
      <defs>
        <clipPath id={clipId}>
          <rect x={x0} y={y0} width={x1 - x0} height={y1 - y0} />
        </clipPath>
      </defs>
      <line x1={x(0)} x2={x(0)} y1={y0} y2={y1} stroke="#9a9a9a" strokeWidth={1} strokeDasharray="4,3" />
      <g clipPath={`url(#${clipId})`}>
        {p.series.map(([data, color], i) => (
          <path key={i} d={line(data) || ""} fill="none" stroke={color} strokeWidth={1.15} strokeLinejoin="round" />
        ))}
      </g>
      <rect x={x0} y={y0} width={x1 - x0} height={y1 - y0} fill="none" stroke="#000" strokeWidth={1} />
      {xMinor.map((v) => (
        <g key={`xm${v}`}>
          <line x1={x(v)} x2={x(v)} y1={y1} y2={y1 - 1.8} stroke="#000" strokeWidth={0.8} />
          <line x1={x(v)} x2={x(v)} y1={y0} y2={y0 + 1.8} stroke="#000" strokeWidth={0.8} />
        </g>
      ))}
      {X_TICKS.map((v) => (
        <g key={`xt${v}`}>
          <line x1={x(v)} x2={x(v)} y1={y1} y2={y1 - 3.5} stroke="#000" strokeWidth={1} />
          <line x1={x(v)} x2={x(v)} y1={y0} y2={y0 + 3.5} stroke="#000" strokeWidth={1} />
          <text x={x(v)} y={row.tickY} textAnchor="middle" fontSize={8.5} fontWeight={700} fontFamily={FONT}>
            {clean(d3.format("d")(v))}
          </text>
        </g>
      ))}
      {yMinor.map((v, i) => (
        <g key={`ym${i}`}>
          <line x1={x0} x2={x0 + 1.8} y1={y(v)} y2={y(v)} stroke="#000" strokeWidth={0.8} />
          <line x1={x1} x2={x1 - 1.8} y1={y(v)} y2={y(v)} stroke="#000" strokeWidth={0.8} />
        </g>
      ))}
      {p.yt.map((v, i) => (
        <g key={`yt${i}`}>
          <line x1={x0} x2={x0 + 3.5} y1={y(v)} y2={y(v)} stroke="#000" strokeWidth={1} />
          <line x1={x1} x2={x1 - 3.5} y1={y(v)} y2={y(v)} stroke="#000" strokeWidth={1} />
          <text x={x0 - 4} y={y(v)} dy="0.35em" textAnchor="end" fontSize={8.5} fontWeight={700} fontFamily={FONT}>
            {clean(f(Math.abs(v) < 1e-9 ? 0 : v))}
          </text>
        </g>
      ))}
      <YLabel r={p.r} x={p.ylx} cy={(y0 + y1) / 2} />
      {p.r === 0 && (
        <text x={cx} y={12.5} textAnchor="middle" fontSize={14.5} letterSpacing={1.8} fontWeight={700} fontFamily={FONT}>
          {YEARS[p.c]}
        </text>
      )}
      <text x={cx} y={row.titleY} textAnchor="middle" fontSize={p.r === 0 ? 9.5 : 10} fontWeight={700} fontFamily={FONT}>
        {ROW_TITLES[p.r]}
      </text>
      <text x={p.letterX} y={p.r === 0 ? 15 : row.titleY + 1} fontSize={15} fontWeight={700} fontFamily={FONT}>
        {letter}
      </text>
      {p.r === 3 && (
        <text x={cx} y={534.5} textAnchor="middle" fontSize={8.5} fontWeight={700} fontFamily={FONT}>
          Months
        </text>
      )}
      {p.legend &&
        p.legend.labels.map((lab, i) => {
          const ly = p.legend!.y + i * p.legend!.dy;
          return (
            <g key={lab}>
              <line x1={p.legend!.x} x2={p.legend!.x + 8} y1={ly} y2={ly} stroke={p.legend!.colors[i]} strokeWidth={1.8} />
              <text x={p.legend!.x + 11} y={ly} dy="0.35em" fontSize={7} fontWeight={700} fontFamily={FONT}>
                {lab}
              </text>
            </g>
          );
        })}
    </g>
  );
}

export default function App() {
  return (
    <svg
      width={685}
      height={535}
      viewBox="0 0 685 535"
      style={{ position: "absolute", left: 0, top: 0, background: "#fff" }}
    >
      <rect x={0} y={0} width={685} height={535} fill="#fff" />
      {PANELS.map((p, i) => (
        <Panel key={i} p={p} idx={i} />
      ))}
    </svg>
  );
}
